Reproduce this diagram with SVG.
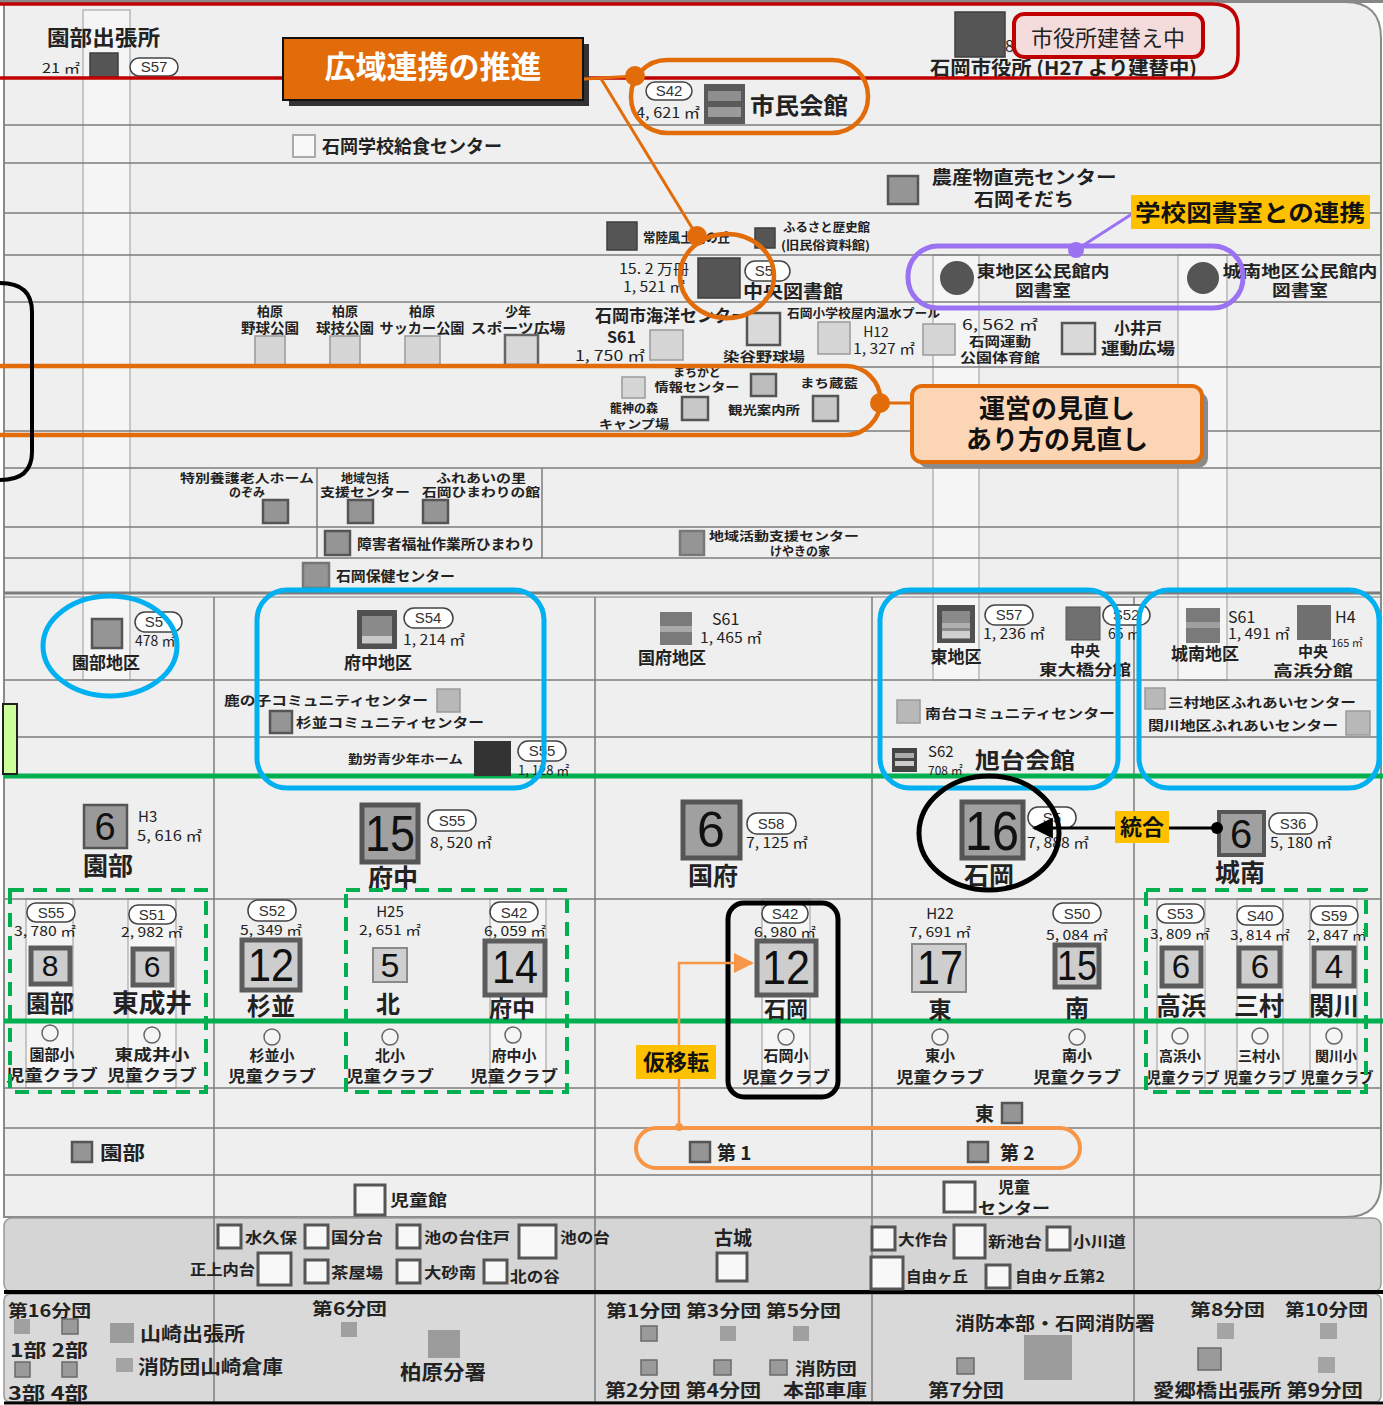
<svg xmlns="http://www.w3.org/2000/svg" width="1383" height="1405" viewBox="0 0 1383 1405">
<defs>
<style>
.t{font-family:"Noto Sans CJK JP","Noto Sans",sans-serif;font-weight:700;fill:#222}
.n{font-family:"Noto Sans CJK JP","Noto Sans",sans-serif;font-weight:400;fill:#222}
.num{font-family:"Liberation Sans","DejaVu Sans",sans-serif;font-weight:400;fill:#111;text-anchor:middle}
.m{text-anchor:middle}
.g{stroke:#7d7d7d;stroke-width:1.5;fill:none}
.sq{fill:#959595;stroke:#555;stroke-width:2.5}
.sqd{fill:#555;stroke:#3f3f3f;stroke-width:1.5}
.sql{fill:#d6d6d6;stroke:#9a9a9a;stroke-width:1.5}
.sqw{fill:#f8f8f8;stroke:#555;stroke-width:3}
.sqs{fill:#cdcdcd;stroke:#5c5c5c;stroke-width:5}
.sqf{fill:#9a9a9a;stroke:#6a6a6a;stroke-width:1.5}
.pill{fill:#fff;stroke:#444;stroke-width:1.5}
.pt{font-family:"Liberation Sans",sans-serif;font-size:15px;fill:#333;text-anchor:middle}
.strip{fill:#f5f5f5;stroke:#a8a8a8;stroke-width:1.2}
.blue{fill:none;stroke:#00b0f0;stroke-width:5}
.gd{fill:none;stroke:#00b050;stroke-width:4;stroke-dasharray:14 9}
.or{fill:none;stroke:#e36c0a;stroke-width:4.5}
.or2{fill:none;stroke:#f79646;stroke-width:4}
.ci{fill:#f5f5f5;stroke:#666;stroke-width:1.5}
</style>
<marker id="ab" viewBox="0 0 10 10" refX="9" refY="5" markerWidth="7" markerHeight="7" orient="auto"><path d="M0,0 L10,5 L0,10 z" fill="#000"/></marker>
<marker id="ao" viewBox="0 0 10 10" refX="9" refY="5" markerWidth="8" markerHeight="8" orient="auto"><path d="M0,0 L10,5 L0,10 z" fill="#f79646"/></marker>
</defs>

<g id="background">
<rect x="0" y="0" width="1383" height="1405" fill="#ffffff"/>
<path d="M4,2 H1345 Q1381,2 1381,38 V1182 Q1381,1217 1346,1217 H4 Z" fill="#efefef" stroke="#8a8a8a" stroke-width="2"/>
<rect x="0" y="0" width="1383" height="3" fill="#888"/>
<rect x="4" y="1218" width="1377" height="74" rx="8" fill="#d5d5d5" stroke="#999" stroke-width="1.5"/>
<rect x="4" y="1294" width="1377" height="108" rx="6" fill="#d9d9d9" stroke="#999" stroke-width="1.5"/>
<rect x="83" y="10" width="47" height="670" class="strip"/>
<rect x="933" y="255" width="46" height="425" class="strip"/>
<rect x="1178" y="255" width="49" height="425" class="strip"/>
<rect x="26" y="899" width="47" height="189" class="strip"/>
<rect x="128" y="899" width="48" height="189" class="strip"/>
<rect x="490" y="899" width="56" height="189" class="strip"/>
<rect x="762" y="899" width="48" height="189" class="strip"/>
<rect x="1157" y="899" width="48" height="189" class="strip"/>
<rect x="1237" y="899" width="46" height="189" class="strip"/>
<rect x="1310" y="899" width="47" height="189" class="strip"/>
</g>

<g id="grid" class="g">
<line x1="4" y1="125" x2="1381" y2="125"/>
<line x1="4" y1="163" x2="1381" y2="163"/>
<line x1="4" y1="213" x2="1381" y2="213"/>
<line x1="4" y1="255" x2="1381" y2="255"/>
<line x1="4" y1="302" x2="1381" y2="302"/>
<line x1="4" y1="367" x2="1381" y2="367"/>
<line x1="4" y1="431" x2="1381" y2="431"/>
<line x1="4" y1="468" x2="1381" y2="468"/>
<line x1="4" y1="527" x2="1381" y2="527"/>
<line x1="4" y1="558" x2="1381" y2="558"/>
<line x1="4" y1="593" x2="1381" y2="593" stroke-width="3"/>
<line x1="4" y1="597" x2="1381" y2="597" stroke-width="1"/>
<line x1="4" y1="680" x2="1381" y2="680"/>
<line x1="4" y1="737" x2="1381" y2="737"/>
<line x1="4" y1="899" x2="1381" y2="899"/>
<line x1="4" y1="1088" x2="1381" y2="1088"/>
<line x1="4" y1="1128" x2="1381" y2="1128"/>
<line x1="4" y1="1175" x2="1381" y2="1175"/>
<line x1="317" y1="468" x2="317" y2="558"/>
<line x1="542" y1="468" x2="542" y2="558"/>
<line x1="214" y1="597" x2="214" y2="1402"/>
<line x1="595" y1="597" x2="595" y2="1402"/>
<line x1="872" y1="597" x2="872" y2="1402"/>
<line x1="1134" y1="597" x2="1134" y2="1402"/>
</g>
<line x1="4" y1="1292" x2="1383" y2="1292" stroke="#000" stroke-width="4"/>
<line x1="4" y1="1403" x2="1383" y2="1403" stroke="#000" stroke-width="3"/>
<line x1="4" y1="776" x2="1383" y2="776" stroke="#00b050" stroke-width="5"/>
<line x1="4" y1="1021" x2="1383" y2="1021" stroke="#00b050" stroke-width="5"/>

<g id="n-sonobe-branch">
<text class="t" x="47" y="45" font-size="21" textLength="113" lengthAdjust="spacingAndGlyphs">園部出張所</text>
<text class="n" x="42" y="73" font-size="13" textLength="38" lengthAdjust="spacingAndGlyphs">21 ㎡</text>
<rect class="sqd" x="90" y="53" width="28" height="24"/>
<rect class="pill" x="130" y="58" width="48" height="18" rx="9"/><text class="pt" x="154" y="72">S57</text>
</g>

<g id="n-cityhall">
<rect class="sqd" x="955" y="12" width="50" height="45"/>
<text class="n" x="1005" y="52" font-size="16">8</text>
<text class="t" x="930" y="75" font-size="19" textLength="267" lengthAdjust="spacingAndGlyphs">石岡市役所 (H27 より建替中)</text>
</g>
<g id="n-red-frame">
<path d="M0,4 H1212 Q1238,4 1238,28 V55 Q1238,78 1212,78 H0" fill="none" stroke="#c00000" stroke-width="3.5"/>
<rect x="1014" y="14" width="189" height="43" rx="10" fill="#f4dcdc" stroke="#c00000" stroke-width="4"/>
<text class="n" x="1108" y="46" font-size="22" text-anchor="middle" fill="#222">市役所建替え中</text>
</g>

<g id="n-kouiki">
<rect x="289" y="44" width="300" height="62" fill="#333"/>
<rect x="283" y="38" width="300" height="62" fill="#e36c0a" stroke="#111" stroke-width="2"/>
<text class="t m" x="433" y="78" font-size="31" style="fill:#fff">広域連携の推進</text>
</g>

<g id="n-shimin">
<rect class="pill" x="646" y="82" width="46" height="18" rx="9"/><text class="pt" x="669" y="96">S42</text>
<text class="n" x="636" y="118" font-size="14" textLength="64" lengthAdjust="spacingAndGlyphs">4, 621 ㎡</text>
<rect x="704" y="84" width="41" height="40" fill="#5a5a5a"/>
<rect x="708" y="91" width="33" height="10" fill="#8f8f8f"/>
<rect x="708" y="107" width="33" height="10" fill="#9a9a9a"/>
<text class="t" x="750" y="114" font-size="23" textLength="98" lengthAdjust="spacingAndGlyphs">市民会館</text>
</g>

<g id="n-kyushoku">
<rect class="sqw" x="293" y="135" width="22" height="22" style="stroke:#aaa;stroke-width:2"/>
<text class="t" x="322" y="153" font-size="18" textLength="180" lengthAdjust="spacingAndGlyphs">石岡学校給食センター</text>
</g>

<g id="n-nousanbutsu">
<rect class="sq" x="888" y="176" width="30" height="28"/>
<text class="t m" x="1024" y="184" font-size="18" textLength="185" lengthAdjust="spacingAndGlyphs">農産物直売センター</text>
<text class="t m" x="1024" y="206" font-size="18" textLength="100" lengthAdjust="spacingAndGlyphs">石岡そだち</text>
</g>

<g id="n-fudoki">
<rect class="sqd" x="607" y="222" width="30" height="28"/>
<text class="t" x="643" y="242" font-size="13" textLength="87" lengthAdjust="spacingAndGlyphs">常陸風土記の丘</text>
<rect class="sqd" x="755" y="228" width="20" height="20"/>
<text class="t" x="783" y="232" font-size="12" textLength="87" lengthAdjust="spacingAndGlyphs">ふるさと歴史館</text>
<text class="t" x="781" y="250" font-size="12" textLength="89" lengthAdjust="spacingAndGlyphs">(旧民俗資料館)</text>
</g>

<g id="n-library">
<text class="n" x="619" y="274" font-size="14" textLength="70" lengthAdjust="spacingAndGlyphs">15. 2 万冊</text>
<text class="n" x="623" y="292" font-size="14" textLength="62" lengthAdjust="spacingAndGlyphs">1, 521 ㎡</text>
<rect class="sqd" x="698" y="258" width="42" height="40"/>
<rect class="pill" x="745" y="261" width="45" height="20" rx="10"/><text class="pt" x="764" y="276">S5</text>
<text class="t" x="743" y="298" font-size="18" textLength="100" lengthAdjust="spacingAndGlyphs">中央図書館</text>
</g>

<g id="n-higashi-lib">
<circle cx="957" cy="278" r="17" fill="#555"/>
<text class="t m" x="1043" y="277" font-size="16" textLength="133" lengthAdjust="spacingAndGlyphs">東地区公民館内</text>
<text class="t m" x="1043" y="296" font-size="16" textLength="56" lengthAdjust="spacingAndGlyphs">図書室</text>
</g>
<g id="n-jonan-lib">
<circle cx="1203" cy="278" r="16" fill="#555"/>
<text class="t m" x="1300" y="277" font-size="16" textLength="155" lengthAdjust="spacingAndGlyphs">城南地区公民館内</text>
<text class="t m" x="1300" y="296" font-size="16" textLength="56" lengthAdjust="spacingAndGlyphs">図書室</text>
</g>

<g id="n-sports">
<text class="t m" x="270" y="316" font-size="13">柏原</text>
<text class="t m" x="270" y="333" font-size="14" textLength="58" lengthAdjust="spacingAndGlyphs">野球公園</text>
<rect class="sql" x="255" y="336" width="30" height="29"/>
<text class="t m" x="345" y="316" font-size="13">柏原</text>
<text class="t m" x="345" y="333" font-size="14" textLength="58" lengthAdjust="spacingAndGlyphs">球技公園</text>
<rect class="sql" x="330" y="336" width="30" height="29"/>
<text class="t m" x="422" y="316" font-size="13">柏原</text>
<text class="t m" x="422" y="333" font-size="14" textLength="85" lengthAdjust="spacingAndGlyphs">サッカー公園</text>
<rect class="sql" x="405" y="336" width="35" height="29"/>
<text class="t m" x="518" y="316" font-size="13">少年</text>
<text class="t m" x="518" y="333" font-size="14" textLength="95" lengthAdjust="spacingAndGlyphs">スポーツ広場</text>
<rect x="505" y="335" width="33" height="30" fill="#d8d8d8" stroke="#666" stroke-width="2.5"/>
</g>

<g id="n-kaiyo">
<text class="t" x="595" y="322" font-size="17">石岡市海洋センター</text>
<text class="t" x="607" y="343" font-size="16">S61</text>
<text class="n" x="575" y="361" font-size="14" textLength="70" lengthAdjust="spacingAndGlyphs">1, 750 ㎡</text>
<rect class="sql" x="650" y="330" width="33" height="30"/>
</g>
<g id="n-someya">
<rect x="747" y="313" width="33" height="32" fill="#dadada" stroke="#555" stroke-width="2.5"/>
<text class="t" x="723" y="361" font-size="13" textLength="82" lengthAdjust="spacingAndGlyphs">染谷野球場</text>
</g>
<g id="n-pool">
<text class="t" x="787" y="318" font-size="12" textLength="153" lengthAdjust="spacingAndGlyphs">石岡小学校屋内温水プール</text>
<rect class="sql" x="818" y="322" width="32" height="32"/>
<text class="n m" x="876" y="337" font-size="14">H12</text>
<text class="n m" x="884" y="354" font-size="14" textLength="62" lengthAdjust="spacingAndGlyphs">1, 327 ㎡</text>
</g>
<g id="n-gym">
<rect class="sql" x="923" y="324" width="32" height="31"/>
<text class="n m" x="1000" y="330" font-size="14" textLength="76" lengthAdjust="spacingAndGlyphs">6, 562 ㎡</text>
<text class="t m" x="1000" y="346" font-size="13" textLength="62" lengthAdjust="spacingAndGlyphs">石岡運動</text>
<text class="t m" x="1000" y="362" font-size="13" textLength="80" lengthAdjust="spacingAndGlyphs">公園体育館</text>
</g>
<g id="n-koido">
<rect x="1062" y="323" width="33" height="31" fill="#dadada" stroke="#555" stroke-width="2.5"/>
<text class="t m" x="1138" y="334" font-size="16">小井戸</text>
<text class="t m" x="1138" y="354" font-size="16" textLength="74" lengthAdjust="spacingAndGlyphs">運動広場</text>
</g>

<g id="n-machikado">
<rect class="sql" x="622" y="377" width="23" height="21"/>
<text class="t m" x="697" y="377" font-size="12">まちかど</text>
<text class="t m" x="697" y="392" font-size="12" textLength="85" lengthAdjust="spacingAndGlyphs">情報センター</text>
<rect x="751" y="374" width="25" height="22" fill="#bcbcbc" stroke="#555" stroke-width="2.5"/>
</g>
<g id="n-ryujin">
<text class="t m" x="634" y="413" font-size="12">龍神の森</text>
<text class="t m" x="634" y="429" font-size="12" textLength="70" lengthAdjust="spacingAndGlyphs">キャンプ場</text>
<rect x="682" y="397" width="26" height="23" fill="#c8c8c8" stroke="#555" stroke-width="2.5"/>
<text class="t m" x="764" y="415" font-size="12" textLength="72" lengthAdjust="spacingAndGlyphs">観光案内所</text>
</g>
<g id="n-machigura">
<text class="t m" x="829" y="388" font-size="12" textLength="58" lengthAdjust="spacingAndGlyphs">まち蔵藍</text>
<rect x="813" y="396" width="25" height="25" fill="#c8c8c8" stroke="#555" stroke-width="2.5"/>
</g>

<g id="n-welfare">
<text class="t m" x="247" y="483" font-size="12" textLength="134" lengthAdjust="spacingAndGlyphs">特別養護老人ホーム</text>
<text class="t m" x="247" y="497" font-size="12">のぞみ</text>
<rect class="sq" x="263" y="500" width="25" height="23"/>
<text class="t m" x="365" y="483" font-size="12">地域包括</text>
<text class="t m" x="365" y="497" font-size="12" textLength="90" lengthAdjust="spacingAndGlyphs">支援センター</text>
<rect class="sq" x="348" y="500" width="25" height="23"/>
<text class="t m" x="481" y="483" font-size="12" textLength="90" lengthAdjust="spacingAndGlyphs">ふれあいの里</text>
<text class="t m" x="481" y="497" font-size="12" textLength="118" lengthAdjust="spacingAndGlyphs">石岡ひまわりの館</text>
<rect class="sq" x="423" y="500" width="25" height="23"/>
<rect class="sq" x="325" y="531" width="25" height="24"/>
<text class="t" x="357" y="549" font-size="14" textLength="178" lengthAdjust="spacingAndGlyphs">障害者福祉作業所ひまわり</text>
<rect class="sq" x="680" y="531" width="24" height="24" style="stroke:#777"/>
<text class="t m" x="784" y="541" font-size="12" textLength="150" lengthAdjust="spacingAndGlyphs">地域活動支援センター</text>
<text class="t m" x="800" y="556" font-size="12">けやきの家</text>
<rect class="sq" x="303" y="563" width="26" height="25" style="stroke:#777"/>
<text class="t" x="336" y="581" font-size="14" textLength="119" lengthAdjust="spacingAndGlyphs">石岡保健センター</text>
</g>

<g id="n-sonobe-district">
<rect class="sq" x="92" y="619" width="30" height="29"/>
<rect class="pill" x="135" y="612" width="47" height="20" rx="10"/><text class="pt" x="154" y="627">S5</text>
<text class="n" x="135" y="646" font-size="14">478 ㎡</text>
<text class="t m" x="106" y="669" font-size="17">園部地区</text>
</g>
<g id="n-fuchu-district">
<rect x="357" y="610" width="40" height="39" fill="#505050"/>
<rect x="362" y="616" width="30" height="28" fill="#8a8a8a"/>
<rect x="362" y="636" width="30" height="7" fill="#c8c8c8"/>
<rect class="pill" x="404" y="608" width="49" height="20" rx="10"/><text class="pt" x="428" y="623">S54</text>
<text class="n" x="403" y="645" font-size="14" textLength="62" lengthAdjust="spacingAndGlyphs">1, 214 ㎡</text>
<text class="t m" x="378" y="669" font-size="17">府中地区</text>
<text class="t" x="224" y="705" font-size="13" textLength="204" lengthAdjust="spacingAndGlyphs">鹿の子コミュニティセンター</text>
<rect class="sql" x="437" y="689" width="23" height="23" style="fill:#b8b8b8"/>
<rect class="sq" x="270" y="711" width="22" height="22"/>
<text class="t" x="296" y="727" font-size="13" textLength="188" lengthAdjust="spacingAndGlyphs">杉並コミュニティセンター</text>
<text class="t" x="348" y="764" font-size="12" textLength="115" lengthAdjust="spacingAndGlyphs">勤労青少年ホーム</text>
<rect x="474" y="741" width="37" height="35" fill="#333"/>
<rect class="pill" x="518" y="741" width="48" height="20" rx="10"/><text class="pt" x="542" y="756">S55</text>
<text class="n" x="518" y="775" font-size="13">1, 128 ㎡</text>
</g>
<g id="n-kokufu-district">
<rect x="660" y="612" width="32" height="33" fill="#7a7a7a"/>
<rect x="660" y="626" width="32" height="6" fill="#a8a8a8"/>
<text class="n" x="712" y="625" font-size="16">S61</text>
<text class="n" x="700" y="643" font-size="14" textLength="62" lengthAdjust="spacingAndGlyphs">1, 465 ㎡</text>
<text class="t" x="638" y="664" font-size="17">国府地区</text>
</g>
<g id="n-higashi-district">
<rect x="937" y="605" width="38" height="38" fill="#505050"/>
<rect x="942" y="611" width="28" height="28" fill="#8a8a8a"/>
<rect x="942" y="623" width="28" height="5" fill="#b0b0b0"/>
<rect x="942" y="631" width="28" height="7" fill="#d0d0d0"/>
<rect class="pill" x="985" y="605" width="48" height="20" rx="10"/><text class="pt" x="1009" y="620">S57</text>
<text class="n" x="983" y="639" font-size="14" textLength="62" lengthAdjust="spacingAndGlyphs">1, 236 ㎡</text>
<text class="t m" x="956" y="663" font-size="17">東地区</text>
<rect x="1066" y="607" width="34" height="33" fill="#707070" stroke="#555"/>
<rect class="pill" x="1103" y="605" width="47" height="20" rx="10"/><text class="pt" x="1126" y="620">S52</text>
<text class="n" x="1108" y="639" font-size="14">65 ㎡</text>
<text class="t m" x="1085" y="656" font-size="15">中央</text>
<text class="t m" x="1085" y="675" font-size="15" textLength="92" lengthAdjust="spacingAndGlyphs">東大橋分館</text>
<rect class="sql" x="897" y="700" width="23" height="23" style="fill:#b8b8b8"/>
<text class="t" x="925" y="718" font-size="13" textLength="190" lengthAdjust="spacingAndGlyphs">南台コミュニティセンター</text>
<rect x="892" y="748" width="25" height="24" fill="#444"/>
<rect x="895" y="753" width="19" height="5" fill="#aaa"/>
<rect x="895" y="761" width="19" height="5" fill="#ccc"/>
<text class="n" x="928" y="757" font-size="15">S62</text>
<text class="n" x="928" y="775" font-size="12">708 ㎡</text>
<text class="t" x="975" y="768" font-size="22" textLength="100" lengthAdjust="spacingAndGlyphs">旭台会館</text>
</g>
<g id="n-jonan-district">
<rect x="1186" y="608" width="34" height="35" fill="#7a7a7a"/>
<rect x="1186" y="622" width="34" height="6" fill="#9f9f9f"/>
<text class="n" x="1228" y="623" font-size="16">S61</text>
<text class="n" x="1228" y="639" font-size="14" textLength="62" lengthAdjust="spacingAndGlyphs">1, 491 ㎡</text>
<text class="t m" x="1205" y="660" font-size="17">城南地区</text>
<rect x="1297" y="605" width="34" height="35" fill="#707070"/>
<text class="n" x="1335" y="623" font-size="16">H4</text>
<text class="n" x="1331" y="647" font-size="11">165 ㎡</text>
<text class="t m" x="1313" y="657" font-size="15">中央</text>
<text class="t m" x="1313" y="676" font-size="15" textLength="80" lengthAdjust="spacingAndGlyphs">高浜分館</text>
<rect class="sql" x="1145" y="688" width="20" height="21" style="fill:#b8b8b8"/>
<text class="t" x="1168" y="707" font-size="13" textLength="188" lengthAdjust="spacingAndGlyphs">三村地区ふれあいセンター</text>
<text class="t" x="1148" y="730" font-size="13" textLength="190" lengthAdjust="spacingAndGlyphs">関川地区ふれあいセンター</text>
<rect class="sql" x="1346" y="711" width="24" height="24" style="fill:#b8b8b8"/>
</g>
<rect x="3" y="704" width="14" height="70" fill="#ccff99" stroke="#222" stroke-width="2"/>

<g id="n-jhs-sonobe">
<rect x="84" y="805" width="43" height="43" fill="#9a9a9a" stroke="#555" stroke-width="2.5"/>
<text class="num" x="105" y="840" font-size="38">6</text>
<text class="n" x="138" y="822" font-size="15">H3</text>
<text class="n" x="137" y="841" font-size="14" textLength="65" lengthAdjust="spacingAndGlyphs">5, 616 ㎡</text>
<text class="t m" x="108" y="875" font-size="25">園部</text>
</g>
<g id="n-jhs-fuchu">
<rect x="362" y="805" width="56" height="57" fill="#a0a0a0" stroke="#555" stroke-width="5"/>
<text class="num" x="390" y="851" font-size="50" textLength="50" lengthAdjust="spacingAndGlyphs">15</text>
<rect class="pill" x="428" y="810" width="48" height="21" rx="10"/><text class="pt" x="452" y="826">S55</text>
<text class="n" x="430" y="848" font-size="14" textLength="62" lengthAdjust="spacingAndGlyphs">8, 520 ㎡</text>
<text class="t m" x="393" y="887" font-size="25">府中</text>
</g>
<g id="n-jhs-kokufu">
<rect x="683" y="802" width="57" height="56" fill="#a0a0a0" stroke="#555" stroke-width="5"/>
<text class="num" x="711" y="847" font-size="50">6</text>
<rect class="pill" x="747" y="813" width="49" height="21" rx="10"/><text class="pt" x="771" y="829">S58</text>
<text class="n" x="746" y="848" font-size="14" textLength="62" lengthAdjust="spacingAndGlyphs">7, 125 ㎡</text>
<text class="t m" x="713" y="885" font-size="25">国府</text>
</g>
<g id="n-jhs-ishioka">
<rect x="962" y="802" width="61" height="56" fill="#a0a0a0" stroke="#555" stroke-width="5"/>
<text class="num" x="992" y="850" font-size="56" textLength="54" lengthAdjust="spacingAndGlyphs">16</text>
<rect class="pill" x="1028" y="807" width="48" height="21" rx="10"/><text class="pt" x="1052" y="823">S5</text>
<text class="n" x="1027" y="848" font-size="14" textLength="62" lengthAdjust="spacingAndGlyphs">7, 888 ㎡</text>
<text class="t m" x="989" y="885" font-size="25">石岡</text>
</g>
<g id="n-jhs-jonan">
<rect x="1219" y="812" width="45" height="43" fill="#a0a0a0" stroke="#555" stroke-width="4"/>
<text class="num" x="1241" y="848" font-size="40">6</text>
<rect class="pill" x="1269" y="813" width="48" height="21" rx="10"/><text class="pt" x="1293" y="829">S36</text>
<text class="n" x="1270" y="848" font-size="14" textLength="62" lengthAdjust="spacingAndGlyphs">5, 180 ㎡</text>
<text class="t m" x="1240" y="882" font-size="25">城南</text>
</g>

<g id="n-es-sonobe">
<rect class="pill" x="27" y="903" width="48" height="19" rx="9"/><text class="pt" x="51" y="918">S55</text>
<text class="n m" x="45" y="936" font-size="13" textLength="62" lengthAdjust="spacingAndGlyphs">3, 780 ㎡</text>
<rect class="sqs" x="31" y="948" width="39" height="36"/>
<text class="num" x="50" y="976" font-size="30">8</text>
<text class="t m" x="50" y="1012" font-size="24">園部</text>
<circle class="ci" cx="50" cy="1033" r="8"/>
<text class="t m" x="52" y="1060" font-size="15">園部小</text>
<text class="t m" x="52" y="1081" font-size="16" textLength="92" lengthAdjust="spacingAndGlyphs">児童クラブ</text>
</g>
<g id="n-es-higashinarui">
<rect class="pill" x="129" y="905" width="47" height="19" rx="9"/><text class="pt" x="152" y="920">S51</text>
<text class="n m" x="152" y="937" font-size="13" textLength="62" lengthAdjust="spacingAndGlyphs">2, 982 ㎡</text>
<rect class="sqs" x="133" y="949" width="39" height="36"/>
<text class="num" x="152" y="977" font-size="30">6</text>
<text class="t m" x="152" y="1012" font-size="25" textLength="80" lengthAdjust="spacingAndGlyphs">東成井</text>
<circle class="ci" cx="152" cy="1035" r="8"/>
<text class="t m" x="152" y="1060" font-size="15" textLength="75" lengthAdjust="spacingAndGlyphs">東成井小</text>
<text class="t m" x="152" y="1081" font-size="16" textLength="90" lengthAdjust="spacingAndGlyphs">児童クラブ</text>
</g>
<g id="n-es-suginami">
<rect class="pill" x="248" y="900" width="48" height="21" rx="10"/><text class="pt" x="272" y="916">S52</text>
<text class="n m" x="271" y="935" font-size="13" textLength="62" lengthAdjust="spacingAndGlyphs">5, 349 ㎡</text>
<rect class="sqs" x="242" y="940" width="58" height="50"/>
<text class="num" x="271" y="981" font-size="46" textLength="46" lengthAdjust="spacingAndGlyphs">12</text>
<text class="t m" x="271" y="1015" font-size="24">杉並</text>
<circle class="ci" cx="272" cy="1037" r="8"/>
<text class="t m" x="272" y="1061" font-size="15">杉並小</text>
<text class="t m" x="272" y="1082" font-size="16" textLength="88" lengthAdjust="spacingAndGlyphs">児童クラブ</text>
</g>
<g id="n-es-kita">
<text class="n m" x="390" y="917" font-size="15">H25</text>
<text class="n m" x="390" y="935" font-size="13" textLength="62" lengthAdjust="spacingAndGlyphs">2, 651 ㎡</text>
<rect x="373" y="948" width="34" height="34" fill="#cfcfcf" stroke="#8a8a8a" stroke-width="2"/>
<text class="num" x="390" y="977" font-size="34">5</text>
<text class="t m" x="388" y="1013" font-size="24">北</text>
<circle class="ci" cx="390" cy="1037" r="8"/>
<text class="t m" x="390" y="1061" font-size="15">北小</text>
<text class="t m" x="390" y="1082" font-size="16" textLength="88" lengthAdjust="spacingAndGlyphs">児童クラブ</text>
</g>
<g id="n-es-fuchu">
<rect class="pill" x="490" y="902" width="48" height="20" rx="10"/><text class="pt" x="514" y="918">S42</text>
<text class="n m" x="515" y="936" font-size="13" textLength="62" lengthAdjust="spacingAndGlyphs">6, 059 ㎡</text>
<rect class="sqs" x="485" y="941" width="60" height="54"/>
<text class="num" x="515" y="983" font-size="46" textLength="46" lengthAdjust="spacingAndGlyphs">14</text>
<text class="t m" x="512" y="1017" font-size="23">府中</text>
<circle class="ci" cx="513" cy="1035" r="8"/>
<text class="t m" x="514" y="1061" font-size="15">府中小</text>
<text class="t m" x="514" y="1082" font-size="16" textLength="88" lengthAdjust="spacingAndGlyphs">児童クラブ</text>
</g>
<g id="n-es-ishioka">
<rect class="pill" x="762" y="904" width="46" height="19" rx="9"/><text class="pt" x="785" y="919">S42</text>
<text class="n m" x="785" y="937" font-size="13" textLength="62" lengthAdjust="spacingAndGlyphs">6, 980 ㎡</text>
<rect class="sqs" x="757" y="941" width="59" height="54"/>
<text class="num" x="786" y="984" font-size="48" textLength="48" lengthAdjust="spacingAndGlyphs">12</text>
<text class="t m" x="786" y="1017" font-size="22">石岡</text>
<circle class="ci" cx="786" cy="1037" r="8"/>
<text class="t m" x="786" y="1061" font-size="15">石岡小</text>
<text class="t m" x="786" y="1083" font-size="16" textLength="88" lengthAdjust="spacingAndGlyphs">児童クラブ</text>
</g>
<g id="n-es-higashi">
<text class="n m" x="940" y="919" font-size="15">H22</text>
<text class="n m" x="940" y="937" font-size="13" textLength="62" lengthAdjust="spacingAndGlyphs">7, 691 ㎡</text>
<rect x="912" y="944" width="54" height="48" fill="#cfcfcf" stroke="#8a8a8a" stroke-width="2"/>
<text class="num" x="940" y="984" font-size="48" textLength="46" lengthAdjust="spacingAndGlyphs">17</text>
<text class="t m" x="940" y="1018" font-size="23">東</text>
<circle class="ci" cx="940" cy="1037" r="8"/>
<text class="t m" x="940" y="1061" font-size="15">東小</text>
<text class="t m" x="940" y="1083" font-size="16" textLength="88" lengthAdjust="spacingAndGlyphs">児童クラブ</text>
</g>
<g id="n-es-minami">
<rect class="pill" x="1053" y="903" width="48" height="20" rx="10"/><text class="pt" x="1077" y="919">S50</text>
<text class="n m" x="1077" y="940" font-size="13" textLength="62" lengthAdjust="spacingAndGlyphs">5, 084 ㎡</text>
<rect class="sqs" x="1055" y="945" width="44" height="42"/>
<text class="num" x="1077" y="980" font-size="42" textLength="40" lengthAdjust="spacingAndGlyphs">15</text>
<text class="t m" x="1077" y="1017" font-size="24">南</text>
<circle class="ci" cx="1077" cy="1037" r="8"/>
<text class="t m" x="1077" y="1061" font-size="15">南小</text>
<text class="t m" x="1077" y="1083" font-size="16" textLength="88" lengthAdjust="spacingAndGlyphs">児童クラブ</text>
</g>
<g id="n-es-takahama">
<rect class="pill" x="1157" y="904" width="47" height="19" rx="9"/><text class="pt" x="1180" y="919">S53</text>
<text class="n m" x="1180" y="939" font-size="13" textLength="60" lengthAdjust="spacingAndGlyphs">3, 809 ㎡</text>
<rect class="sqs" x="1162" y="948" width="39" height="38"/>
<text class="num" x="1181" y="978" font-size="33">6</text>
<text class="t m" x="1181" y="1015" font-size="25">高浜</text>
<circle class="ci" cx="1180" cy="1036" r="8"/>
<text class="t m" x="1180" y="1061" font-size="14">高浜小</text>
<text class="t m" x="1183" y="1083" font-size="15" textLength="73" lengthAdjust="spacingAndGlyphs">児童クラブ</text>
</g>
<g id="n-es-mimura">
<rect class="pill" x="1237" y="906" width="46" height="19" rx="9"/><text class="pt" x="1260" y="921">S40</text>
<text class="n m" x="1260" y="940" font-size="13" textLength="60" lengthAdjust="spacingAndGlyphs">3, 814 ㎡</text>
<rect class="sqs" x="1239" y="948" width="41" height="38"/>
<text class="num" x="1260" y="978" font-size="33">6</text>
<text class="t m" x="1259" y="1015" font-size="25">三村</text>
<circle class="ci" cx="1260" cy="1036" r="8"/>
<text class="t m" x="1259" y="1061" font-size="14">三村小</text>
<text class="t m" x="1260" y="1083" font-size="15" textLength="73" lengthAdjust="spacingAndGlyphs">児童クラブ</text>
</g>
<g id="n-es-sekikawa">
<rect class="pill" x="1311" y="906" width="47" height="19" rx="9"/><text class="pt" x="1334" y="921">S59</text>
<text class="n m" x="1337" y="940" font-size="13" textLength="60" lengthAdjust="spacingAndGlyphs">2, 847 ㎡</text>
<rect class="sqs" x="1314" y="948" width="40" height="38"/>
<text class="num" x="1334" y="978" font-size="33">4</text>
<text class="t m" x="1334" y="1015" font-size="25">関川</text>
<circle class="ci" cx="1334" cy="1036" r="8"/>
<text class="t m" x="1336" y="1061" font-size="14">関川小</text>
<text class="t m" x="1337" y="1083" font-size="15" textLength="73" lengthAdjust="spacingAndGlyphs">児童クラブ</text>
</g>

<g id="n-clubs">
<text class="t" x="975" y="1121" font-size="19">東</text>
<rect class="sq" x="1002" y="1103" width="20" height="20"/>
<rect class="sq" x="72" y="1142" width="20" height="20"/>
<text class="t" x="100" y="1160" font-size="19" textLength="45" lengthAdjust="spacingAndGlyphs">園部</text>
<rect class="sq" x="690" y="1142" width="20" height="20"/>
<text class="t" x="717" y="1160" font-size="19">第 1</text>
<rect class="sq" x="968" y="1142" width="20" height="20"/>
<text class="t" x="1000" y="1160" font-size="19">第 2</text>
<rect class="sqw" x="355" y="1185" width="30" height="30"/>
<text class="t" x="390" y="1206" font-size="16" textLength="57" lengthAdjust="spacingAndGlyphs">児童館</text>
<rect class="sqw" x="944" y="1182" width="31" height="30"/>
<text class="t m" x="1014" y="1193" font-size="16">児童</text>
<text class="t m" x="1014" y="1214" font-size="16" textLength="72" lengthAdjust="spacingAndGlyphs">センター</text>
</g>

<g id="n-nursery">
<rect class="sqw" x="218" y="1225" width="23" height="23"/><text class="t" x="245" y="1243" font-size="15" textLength="52" lengthAdjust="spacingAndGlyphs">水久保</text>
<rect class="sqw" x="305" y="1225" width="23" height="23"/><text class="t" x="331" y="1243" font-size="15" textLength="52" lengthAdjust="spacingAndGlyphs">国分台</text>
<rect class="sqw" x="397" y="1225" width="23" height="23"/><text class="t" x="424" y="1243" font-size="15" textLength="86" lengthAdjust="spacingAndGlyphs">池の台住戸</text>
<rect class="sqw" x="519" y="1225" width="37" height="33"/><text class="t" x="560" y="1243" font-size="15" textLength="50" lengthAdjust="spacingAndGlyphs">池の台</text>
<text class="t" x="190" y="1275" font-size="15" textLength="65" lengthAdjust="spacingAndGlyphs">正上内台</text>
<rect class="sqw" x="258" y="1253" width="33" height="32"/>
<rect class="sqw" x="305" y="1260" width="23" height="23"/><text class="t" x="331" y="1278" font-size="15" textLength="52" lengthAdjust="spacingAndGlyphs">茶屋場</text>
<rect class="sqw" x="397" y="1260" width="23" height="23"/><text class="t" x="424" y="1278" font-size="15" textLength="52" lengthAdjust="spacingAndGlyphs">大砂南</text>
<rect class="sqw" x="484" y="1260" width="23" height="23"/><text class="t" x="510" y="1282" font-size="15" textLength="50" lengthAdjust="spacingAndGlyphs">北の谷</text>
<text class="t m" x="733" y="1245" font-size="19">古城</text>
<rect class="sqw" x="717" y="1253" width="30" height="28"/>
<rect class="sqw" x="872" y="1227" width="23" height="23"/><text class="t" x="898" y="1245" font-size="15" textLength="50" lengthAdjust="spacingAndGlyphs">大作台</text>
<rect class="sqw" x="954" y="1225" width="31" height="33"/><text class="t" x="988" y="1247" font-size="15" textLength="54" lengthAdjust="spacingAndGlyphs">新池台</text>
<rect class="sqw" x="1047" y="1227" width="23" height="23"/><text class="t" x="1073" y="1247" font-size="15" textLength="53" lengthAdjust="spacingAndGlyphs">小川道</text>
<rect class="sqw" x="871" y="1257" width="32" height="32"/><text class="t" x="906" y="1282" font-size="15" textLength="62" lengthAdjust="spacingAndGlyphs">自由ヶ丘</text>
<rect class="sqw" x="986" y="1265" width="24" height="23"/><text class="t" x="1015" y="1282" font-size="15" textLength="90" lengthAdjust="spacingAndGlyphs">自由ヶ丘第2</text>
</g>

<g id="n-fire">
<text class="t" x="8" y="1317" font-size="17" textLength="83" lengthAdjust="spacingAndGlyphs">第16分団</text>
<rect x="14" y="1319" width="16" height="15" fill="#a0a0a0"/>
<rect class="sqf" x="62" y="1319" width="16" height="15"/>
<text class="t" x="10" y="1357" font-size="18" textLength="78" lengthAdjust="spacingAndGlyphs">1部 2部</text>
<rect class="sqf" x="15" y="1362" width="15" height="15"/>
<rect class="sqf" x="62" y="1362" width="15" height="15"/>
<text class="t" x="8" y="1400" font-size="18" textLength="80" lengthAdjust="spacingAndGlyphs">3部 4部</text>
<rect x="110" y="1323" width="24" height="20" fill="#9c9c9c"/>
<text class="t" x="140" y="1341" font-size="19" textLength="105" lengthAdjust="spacingAndGlyphs">山崎出張所</text>
<rect x="116" y="1358" width="17" height="14" fill="#a4a4a4"/>
<text class="t" x="138" y="1374" font-size="19" textLength="145" lengthAdjust="spacingAndGlyphs">消防団山崎倉庫</text>
<text class="t" x="312" y="1315" font-size="17" textLength="75" lengthAdjust="spacingAndGlyphs">第6分団</text>
<rect x="341" y="1322" width="16" height="15" fill="#a0a0a0"/>
<rect x="428" y="1330" width="32" height="28" fill="#9c9c9c"/>
<text class="t" x="400" y="1380" font-size="20" textLength="86" lengthAdjust="spacingAndGlyphs">柏原分署</text>
<text class="t" x="606" y="1317" font-size="17" textLength="235" lengthAdjust="spacingAndGlyphs">第1分団 第3分団 第5分団</text>
<rect class="sqf" x="641" y="1326" width="16" height="15"/>
<rect x="720" y="1326" width="16" height="15" fill="#a0a0a0"/>
<rect x="793" y="1326" width="16" height="15" fill="#a0a0a0"/>
<rect class="sqf" x="641" y="1360" width="16" height="15"/>
<rect class="sqf" x="714" y="1360" width="17" height="15"/>
<rect class="sqf" x="770" y="1360" width="17" height="15"/>
<text class="t" x="795" y="1375" font-size="17" textLength="62" lengthAdjust="spacingAndGlyphs">消防団</text>
<text class="t" x="783" y="1397" font-size="18" textLength="84" lengthAdjust="spacingAndGlyphs">本部車庫</text>
<text class="t" x="605" y="1397" font-size="18" textLength="156" lengthAdjust="spacingAndGlyphs">第2分団 第4分団</text>
<text class="t" x="955" y="1330" font-size="18" textLength="200" lengthAdjust="spacingAndGlyphs">消防本部・石岡消防署</text>
<rect x="1024" y="1335" width="48" height="45" fill="#9c9c9c"/>
<rect class="sqf" x="957" y="1358" width="17" height="16"/>
<text class="t" x="928" y="1397" font-size="18" textLength="76" lengthAdjust="spacingAndGlyphs">第7分団</text>
<text class="t" x="1190" y="1316" font-size="17" textLength="75" lengthAdjust="spacingAndGlyphs">第8分団</text>
<text class="t" x="1285" y="1316" font-size="17" textLength="83" lengthAdjust="spacingAndGlyphs">第10分団</text>
<rect x="1217" y="1323" width="17" height="16" fill="#a4a4a4"/>
<rect x="1320" y="1323" width="17" height="16" fill="#a4a4a4"/>
<rect class="sqf" x="1198" y="1348" width="23" height="22"/>
<rect x="1318" y="1357" width="17" height="16" fill="#a4a4a4"/>
<text class="t" x="1153" y="1397" font-size="18" textLength="210" lengthAdjust="spacingAndGlyphs">愛郷橋出張所 第9分団</text>
</g>

<g id="highlights">
<rect class="or" x="631" y="60" width="237" height="73" rx="36"/>
<ellipse class="or" cx="727" cy="276" rx="47" ry="42"/>
<rect x="908" y="246" width="335" height="62" rx="30" fill="none" stroke="#9b72f2" stroke-width="5"/>
<path class="or" d="M0,366 H846 A34.5,34.5 0 0 1 846,435 H0" stroke-width="5"/>
<path d="M0,283 Q32,283 32,312 V452 Q32,480 0,480" fill="none" stroke="#000" stroke-width="4"/>
<ellipse class="blue" cx="110" cy="646" rx="67" ry="50"/>
<rect class="blue" x="257" y="590" width="287" height="198" rx="30"/>
<rect class="blue" x="880" y="590" width="238" height="198" rx="30"/>
<rect class="blue" x="1139" y="590" width="240" height="198" rx="30"/>
<ellipse cx="989" cy="833" rx="70" ry="57" fill="none" stroke="#000" stroke-width="5"/>
<rect class="gd" x="10" y="890" width="196" height="202"/>
<rect class="gd" x="346" y="890" width="221" height="202"/>
<rect class="gd" x="1146" y="890" width="220" height="202"/>
<rect x="728" y="903" width="110" height="194" rx="16" fill="none" stroke="#000" stroke-width="5"/>
<rect class="or2" x="636" y="1128" width="444" height="40" rx="20"/>
</g>

<g id="connectors">
<line x1="584" y1="79" x2="635" y2="76" stroke="#e36c0a" stroke-width="3"/>
<line x1="600" y1="77" x2="697" y2="236" stroke="#e36c0a" stroke-width="3"/>
<circle cx="635" cy="76" r="10" fill="#e36c0a"/>
<circle cx="697" cy="236" r="10" fill="#e36c0a"/>
<line x1="1135" y1="212" x2="1076" y2="250" stroke="#9b72f2" stroke-width="3"/>
<circle cx="1076" cy="250" r="8" fill="#9b72f2"/>
<line x1="880" y1="403" x2="930" y2="403" stroke="#e36c0a" stroke-width="3"/>
<circle cx="880" cy="403" r="10" fill="#e36c0a"/>
<line x1="1217" y1="828" x2="1034" y2="828" stroke="#000" stroke-width="3" marker-end="url(#ab)"/>
<circle cx="1217" cy="828" r="6" fill="#000"/>
<polyline points="679,1128 679,963 752,963" fill="none" stroke="#f79646" stroke-width="2.5" marker-end="url(#ao)"/>
<circle cx="679" cy="1127" r="4" fill="#f79646"/>
</g>

<g id="n-gakko-label">
<rect x="1131" y="195" width="239" height="34" fill="#ffc000"/>
<text class="t m" x="1250" y="221" font-size="23" textLength="230" lengthAdjust="spacingAndGlyphs" style="fill:#111">学校図書室との連携</text>
</g>
<g id="n-unei-label">
<rect x="918" y="392" width="290" height="76" rx="10" fill="#8a8a8a"/>
<rect x="912" y="386" width="290" height="76" rx="10" fill="#fcd5b5" stroke="#e36c0a" stroke-width="4"/>
<text class="t m" x="1057" y="418" font-size="26" style="fill:#111">運営の見直し</text>
<text class="t m" x="1057" y="449" font-size="26" style="fill:#111">あり方の見直し</text>
</g>
<g id="n-tougou-label">
<rect x="1115" y="811" width="54" height="32" fill="#ffc000"/>
<text class="t m" x="1142" y="835" font-size="22" style="fill:#111">統合</text>
</g>
<g id="n-karaiten-label">
<rect x="636" y="1045" width="80" height="34" fill="#ffc000"/>
<text class="t m" x="676" y="1070" font-size="22" style="fill:#111">仮移転</text>
</g>
</svg>
